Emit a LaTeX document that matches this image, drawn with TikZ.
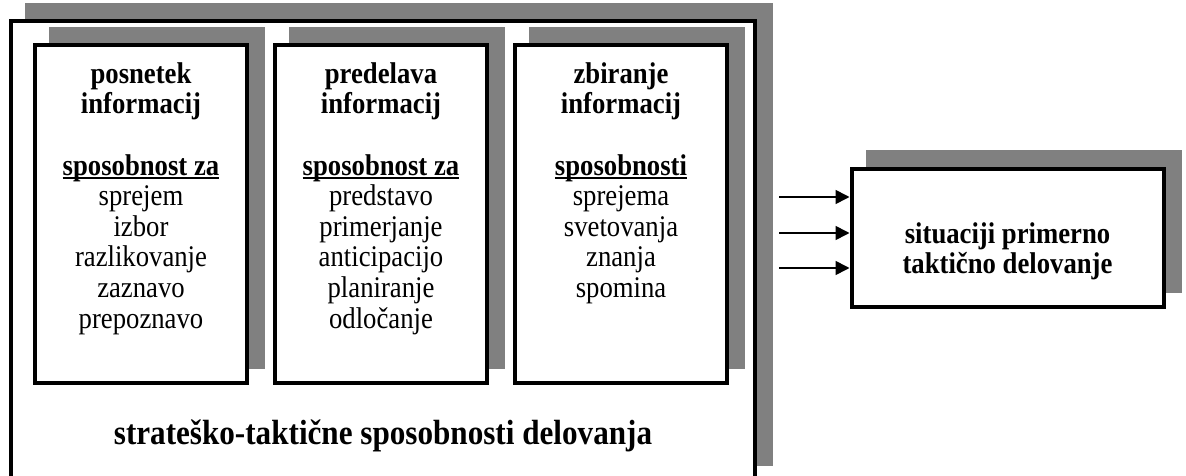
\documentclass[tikz,border=0pt]{standalone}
\usepackage{fontspec}
\setmainfont{Liberation Serif}[FakeStretch=0.89]
\usetikzlibrary{arrows.meta}
\definecolor{shadowgray}{HTML}{808080}
% underline with a fixed offset below the baseline
\newcommand\myul[1]{\setbox0\hbox{#1}\rlap{\rule[-4pt]{\wd0}{1.8pt}}\box0}
\tikzset{
  shadowed/.style={draw=black, line width=4pt, fill=white, inner sep=0pt,
    preaction={fill=shadowgray, draw=shadowgray, line width=4pt,
      transform canvas={shift={(16pt,16pt)}}}},
  boxtxt/.style={align=center, inner sep=0pt, anchor=north,
    font=\fontsize{30}{30.6}\selectfont},
  arr/.style={line width=1.6pt, -{Triangle[length=14pt,width=14pt]}}
}
\begin{document}
\begin{tikzpicture}[x=1pt,y=-1pt]
\useasboundingbox (0,0) rectangle (1186,476);
\clip (0,0) rectangle (1186,476);
\fill[white] (0,0) rectangle (1186,476);

% outer frame
\node[shadowed, minimum width=744pt, minimum height=458.5pt] (outer) at (383,250.75) {};
\node[align=center, inner sep=0pt, anchor=north,
      font=\fontsize{35}{36}\selectfont\bfseries] (otxt) at (383,418.8)
      {\strut strateško-taktične sposobnosti delovanja};

% three inner boxes
\node[shadowed, minimum width=212pt, minimum height=338pt] (b1) at (141,214) {};
\node[shadowed, minimum width=212pt, minimum height=338pt] (b2) at (381,214) {};
\node[shadowed, minimum width=212pt, minimum height=338pt] (b3) at (621,214) {};

\node[boxtxt] (t1) at (141,61.58)
  {\strut\textbf{posnetek}\\\textbf{informacij}\\[30.6pt]\myul{\textbf{sposobnost za}}\\sprejem\\izbor\\razlikovanje\\zaznavo\\prepoznavo};
\node[boxtxt] (t2) at (381,61.58)
  {\strut\textbf{predelava}\\\textbf{informacij}\\[30.6pt]\myul{\textbf{sposobnost za}}\\predstavo\\primerjanje\\anticipacijo\\planiranje\\odločanje};
\node[boxtxt] (t3) at (621,61.58)
  {\strut\textbf{zbiranje}\\\textbf{informacij}\\[30.6pt]\myul{\textbf{sposobnosti}}\\sprejema\\svetovanja\\znanja\\spomina};

% result box
\node[shadowed, minimum width=312pt, minimum height=138.5pt] (rb) at (1007.5,237.75) {};
\node[align=center, inner sep=0pt, anchor=north,
      font=\fontsize{30}{28}\selectfont\bfseries] (rtxt) at (1007.5,222.4)
      {\strut situaciji primerno\\taktično delovanje};

% arrows into the result box
\coordinate (s1) at (779,197);
\coordinate (s2) at (779,233);
\coordinate (s3) at (779,268);
\draw[arr] (s1) -- (s1 -| rb.west);
\draw[arr] (s2) -- (s2 -| rb.west);
\draw[arr] (s3) -- (s3 -| rb.west);
\end{tikzpicture}
\end{document}
